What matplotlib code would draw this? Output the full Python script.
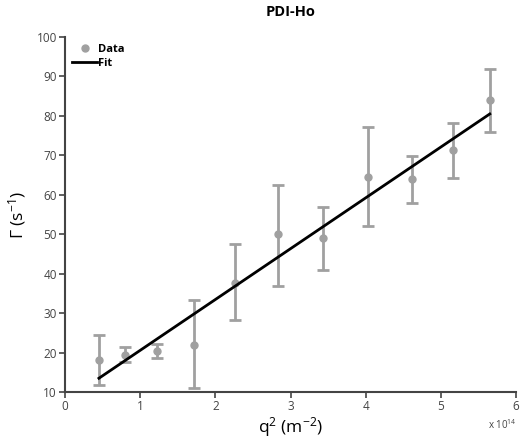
import matplotlib
matplotlib.use("Agg")
import matplotlib.pyplot as plt
from matplotlib.lines import Line2D

# q^2 in units of 1e14 m^-2
q2 = [0.45, 0.80, 1.22, 1.72, 2.26, 2.83, 3.43, 4.03, 4.61, 5.16, 5.65]
gamma = [18.0, 19.5, 20.3, 22.0, 37.7, 50.0, 49.0, 64.5, 64.0, 71.3, 84.0]
err_lo = [11.7, 17.5, 18.7, 11.0, 28.3, 37.0, 41.0, 52.0, 58.0, 64.3, 76.0]
err_hi = [24.5, 21.5, 22.3, 33.3, 47.5, 62.6, 57.0, 77.3, 69.8, 78.2, 92.0]
fit_x = [0.45, 5.65]
fit_y = [13.5, 80.5]

GREY = "#a0a0a0"
AXC = "#444444"

plt.rcParams["font.family"] = ["Open Sans", "DejaVu Sans"]
plt.rcParams["mathtext.fontset"] = "custom"
plt.rcParams["mathtext.rm"] = "Open Sans"
plt.rcParams["mathtext.it"] = "Open Sans"

fig = plt.figure(figsize=(5.25, 4.41), dpi=100)
ax = fig.add_axes([0.124, 0.111, 0.859, 0.805])

yerr = [[g - lo for g, lo in zip(gamma, err_lo)],
        [hi - g for g, hi in zip(gamma, err_hi)]]
ax.errorbar(q2, gamma, yerr=yerr, fmt="o", color=GREY, ms=5, elinewidth=2,
            capsize=4, capthick=2, zorder=2)
ax.plot(fit_x, fit_y, color="black", lw=2, zorder=3)

ax.set_xlim(0, 6)
ax.set_ylim(10, 100)
ax.set_xticks(range(0, 7))
ax.set_yticks(range(10, 101, 10))
for s in ["top", "right"]:
    ax.spines[s].set_visible(False)
for s in ["left", "bottom"]:
    ax.spines[s].set_color(AXC)
    ax.spines[s].set_linewidth(1.5)
ax.tick_params(colors=AXC, labelsize=8.5, width=1.2, length=4, direction="out",
               pad=2)

ax.set_title("PDI-Ho", fontsize=10.5, fontweight="bold", pad=15)
ax.set_xlabel("q$^{2}$ (m$^{-2}$)", fontsize=12.5, labelpad=1)
ax.set_ylabel("Γ (s$^{-1}$)", fontsize=12.5, labelpad=6)
fig.text(0.983, 0.028, "x 10$^{14}$", fontsize=7, ha="right", color=AXC)

handles = [Line2D([], [], marker="o", ls="none", color=GREY, ms=5),
           Line2D([], [], color="black", lw=2)]
leg = ax.legend(handles, ["Data", "Fit"], loc="upper left", frameon=False,
                prop={"weight": "bold", "size": 8}, handlelength=2.3,
                handletextpad=0.1, labelspacing=0.3, borderaxespad=0.2)

fig.savefig("out.png", dpi=100)
